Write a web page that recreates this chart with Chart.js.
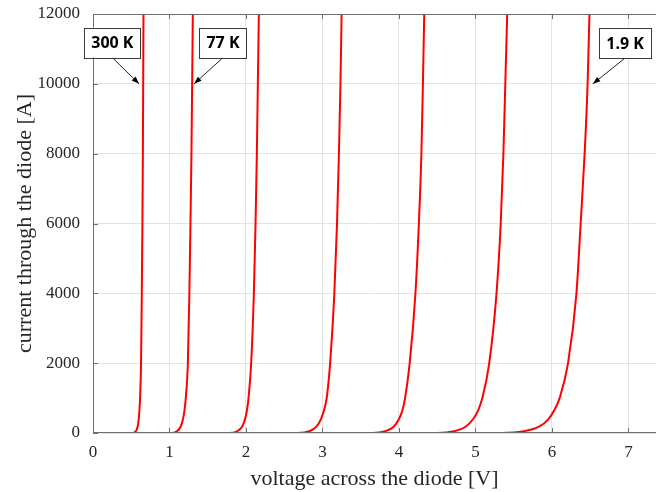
<!DOCTYPE html>
<html>
<head>
<meta charset="utf-8">
<script src="https://cdn.jsdelivr.net/npm/chart.js@4.4.0/dist/chart.umd.min.js"></script>
<style>
  body { margin: 0; background: #fff; }
  #wrap { width: 656px; height: 492px; }
</style>
</head>
<body>
<div id="wrap"><canvas id="diode"></canvas></div>
<script>
// current levels at which the voltage of each curve was read [A]
const currentA = [0, 0, 50, 180, 400, 650, 1000, 2000, 4000, 6000, 8000, 10000, 12000];

// voltage [V] of each temperature curve at those current levels
const volt300K = [0, 0.51, 0.559, 0.583, 0.598, 0.607, 0.615, 0.628, 0.638, 0.646, 0.652, 0.656, 0.66];
const volt77K  = [0, 1.02, 1.096, 1.146, 1.177, 1.196, 1.213, 1.24, 1.26, 1.274, 1.287, 1.296, 1.305];
const voltC3   = [0, 1.78, 1.885, 1.948, 1.988, 2.012, 2.033, 2.068, 2.103, 2.125, 2.142, 2.155, 2.168];
const voltC4   = [0, 2.68, 2.83, 2.92, 2.98, 3.02, 3.055, 3.10, 3.155, 3.19, 3.215, 3.235, 3.25];
const voltC5   = [0, 3.65, 3.82, 3.93, 4.0, 4.045, 4.08, 4.14, 4.215, 4.26, 4.293, 4.313, 4.33];
const voltC6   = [0, 4.5, 4.72, 4.87, 4.97, 5.035, 5.09, 5.18, 5.275, 5.33, 5.365, 5.39, 5.415];
const volt19K  = [0, 5.35, 5.63, 5.83, 5.955, 6.03, 6.10, 6.21, 6.32, 6.375, 6.427, 6.466, 6.49];

const curves = [volt300K, volt77K, voltC3, voltC4, voltC5, voltC6, volt19K];

const xTicks = [0, 1, 2, 3, 4, 5, 6, 7];
const yTicks = [0, 2000, 4000, 6000, 8000, 10000, 12000];

const notes = [
  {text: '300 K', bx: 0.253, by: 11180, tx: 0.602, ty: 10000},
  {text: '77 K',  bx: 1.699, by: 11180, tx: 1.322, ty: 10000},
  {text: '1.9 K', bx: 6.957, by: 11170, tx: 6.535, ty: 10000}
];

const axisGray = '#6e6e6e';

function pairs(vs) {
  return vs.map((v, i) => ({x: v, y: currentA[i]}));
}

const frame = {
  id: 'frame',
  afterDatasetsDraw(chart) {
    const {ctx, chartArea: a, scales: {x, y}} = chart;
    ctx.save();
    ctx.strokeStyle = axisGray;
    ctx.lineWidth = 1;
    ctx.beginPath();
    ctx.moveTo(a.left + 0.5, a.bottom);
    ctx.lineTo(a.left + 0.5, a.top + 0.5);
    ctx.lineTo(a.right, a.top + 0.5);
    ctx.moveTo(a.left, a.bottom - 0.5);
    ctx.lineTo(a.right, a.bottom - 0.5);
    xTicks.forEach(t => {
      const px = Math.round(x.getPixelForValue(t)) + 0.5;
      ctx.moveTo(px, a.bottom);
      ctx.lineTo(px, a.bottom - 5);
      ctx.moveTo(px, a.top);
      ctx.lineTo(px, a.top + 5);
    });
    yTicks.forEach(t => {
      const py = Math.round(y.getPixelForValue(t)) + 0.5;
      ctx.moveTo(a.left, py);
      ctx.lineTo(a.left + 5, py);
    });
    ctx.stroke();

    // annotations
    ctx.font = 'bold 16px "Open Sans"';
    ctx.textAlign = 'center';
    ctx.textBaseline = 'middle';
    notes.forEach(n => {
      const cx = x.getPixelForValue(n.bx);
      const cy = y.getPixelForValue(n.by);
      const w = ctx.measureText(n.text).width + 14;
      const h = 30;
      const tx = x.getPixelForValue(n.tx);
      const ty = y.getPixelForValue(n.ty);
      const sx = cx, sy = cy + h / 2;
      ctx.strokeStyle = '#222';
      ctx.lineWidth = 1;
      ctx.beginPath();
      ctx.moveTo(sx, sy);
      ctx.lineTo(tx, ty);
      ctx.stroke();
      const ang = Math.atan2(ty - sy, tx - sx);
      ctx.fillStyle = '#000';
      ctx.beginPath();
      ctx.moveTo(tx, ty);
      ctx.lineTo(tx - 8 * Math.cos(ang - 0.35), ty - 8 * Math.sin(ang - 0.35));
      ctx.lineTo(tx - 8 * Math.cos(ang + 0.35), ty - 8 * Math.sin(ang + 0.35));
      ctx.closePath();
      ctx.fill();
      ctx.fillStyle = '#fff';
      ctx.fillRect(cx - w / 2, cy - h / 2, w, h);
      ctx.strokeStyle = '#3a3a3a';
      ctx.strokeRect(Math.round(cx - w / 2) + 0.5, Math.round(cy - h / 2) + 0.5, Math.round(w), h);
      ctx.fillStyle = '#000';
      ctx.fillText(n.text, cx, cy + 1);
    });
    ctx.restore();
  }
};

new Chart(document.getElementById('diode'), {
  type: 'scatter',
  data: {
    datasets: curves.map(c => ({
      data: pairs(c),
      showLine: true,
      borderColor: '#ff0000',
      borderWidth: 2,
      pointRadius: 0,
      cubicInterpolationMode: 'monotone'
    }))
  },
  options: {
    responsive: true,
    maintainAspectRatio: false,
    animation: false,
    layout: {padding: {top: 14, right: 0, left: 0, bottom: 0}},
    plugins: {legend: {display: false}, tooltip: {enabled: false}},
    scales: {
      x: {
        type: 'linear',
        min: 0,
        max: 7.36,
        afterBuildTicks: s => { s.ticks = xTicks.map(v => ({value: v})); },
        afterFit: s => { s.height = 59; s.paddingLeft = 0; s.paddingRight = 0; },
        grid: {color: '#e3e3e3', drawTicks: false},
        border: {display: false},
        ticks: {
          padding: 9,
          color: '#262626',
          font: {family: '"Liberation Serif"', size: 17},
          callback: v => String(v)
        },
        title: {
          display: true,
          text: 'voltage across the diode [V]',
          color: '#262626',
          font: {family: '"Liberation Serif"', size: 22},
          padding: {top: 0, bottom: 0}
        }
      },
      y: {
        min: 0,
        max: 12000,
        afterBuildTicks: s => { s.ticks = yTicks.map(v => ({value: v})); },
        afterFit: s => { s.width = 93; s.paddingTop = 0; s.paddingBottom = 0; },
        grid: {color: '#e3e3e3', drawTicks: false},
        border: {display: false},
        ticks: {
          padding: 13,
          color: '#262626',
          font: {family: '"Liberation Serif"', size: 17},
          callback: v => String(v)
        },
        title: {
          display: true,
          text: 'current through the diode [A]',
          color: '#262626',
          font: {family: '"Liberation Serif"', size: 22},
          padding: {top: 12, bottom: 0}
        }
      }
    }
  },
  plugins: [frame]
});
</script>
</body>
</html>
